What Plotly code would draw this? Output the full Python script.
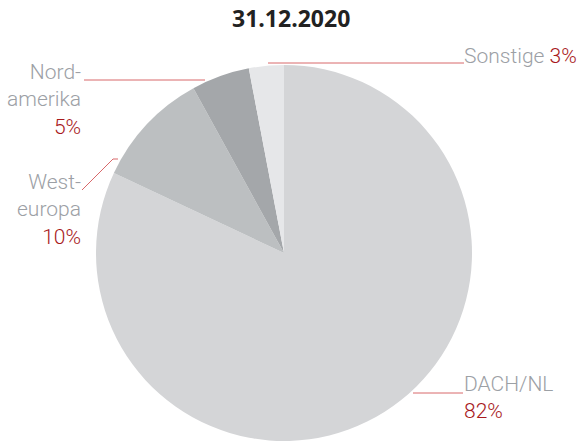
import plotly.graph_objects as go

W, H = 582, 443

regions = ["DACH/NL", "Westeuropa", "Nordamerika", "Sonstige"]
shares = [82, 10, 5, 3]
label_text = ["DACH/NL", "West-<br>europa", "Nord-<br>amerika", "Sonstige"]
slice_colors = ["#d4d5d7", "#bcbfc1", "#a4a7aa", "#e6e7e9"]

GREY = "#9ca0a5"
RED = "#a8191c"
LINE = "#d8686a"
FONT = "Roboto, Liberation Sans Narrow, sans-serif"

def px(x):
    return x / W

def py(y):
    return 1 - y / H

cx, cy, r = 284, 253, 188

fig = go.Figure(go.Pie(
    labels=regions,
    values=shares,
    sort=False,
    direction="clockwise",
    rotation=0,
    textinfo="none",
    hoverinfo="label+percent",
    marker=dict(colors=slice_colors, line=dict(width=0)),
    domain=dict(x=[px(cx - r), px(cx + r)], y=[py(cy + r), py(cy - r)]),
    showlegend=False,
))

def lab(i, sep):
    return f"<span style='color:{GREY}'>{label_text[i]}</span>{sep}<span style='color:{RED}'>{shares[i]}%</span>"

lab_font = dict(family=FONT, size=21, weight=300)
annotations = [
    dict(text="<b>31.12.2020</b>", x=px(291), y=py(18), xanchor="center", yanchor="middle",
         showarrow=False, font=dict(family="Open Sans, Liberation Sans, sans-serif", size=23, color="#222222")),
    dict(text=lab(3, " "), x=px(579), y=py(56), xanchor="right", yanchor="middle", align="right",
         showarrow=False, font=lab_font),
    dict(text=lab(2, "<br>"), x=px(83), y=py(100), xanchor="right", yanchor="middle", align="right",
         showarrow=False, font=lab_font),
    dict(text=lab(1, "<br>"), x=px(83), y=py(209), xanchor="right", yanchor="middle", align="right",
         showarrow=False, font=lab_font),
    dict(text=lab(0, "<br>"), x=px(462), y=py(397), xanchor="left", yanchor="middle", align="left",
         showarrow=False, font=lab_font),
]

line_style = dict(color=LINE, width=1)
shapes = [
    dict(type="line", xref="paper", yref="paper", x0=px(268), y0=py(63), x1=px(464), y1=py(63), line=line_style),
    dict(type="line", xref="paper", yref="paper", x0=px(84), y0=py(80), x1=px(205), y1=py(80), line=line_style),
    dict(type="path", xref="paper", yref="paper",
         path=f"M {px(82)} {py(190)} L {px(113)} {py(159)} L {px(118)} {py(159)}", line=line_style),
    dict(type="line", xref="paper", yref="paper", x0=px(413), y0=py(393), x1=px(463), y1=py(393), line=line_style),
]

fig.update_layout(
    width=W, height=H,
    margin=dict(l=0, r=0, t=0, b=0),
    paper_bgcolor="white",
    plot_bgcolor="white",
    annotations=annotations,
    shapes=shapes,
)

fig.write_html("out.html",
               config={"displayModeBar": False},
               post_script="document.body.style.margin='0';document.body.style.padding='0';document.body.style.overflow='hidden';")
